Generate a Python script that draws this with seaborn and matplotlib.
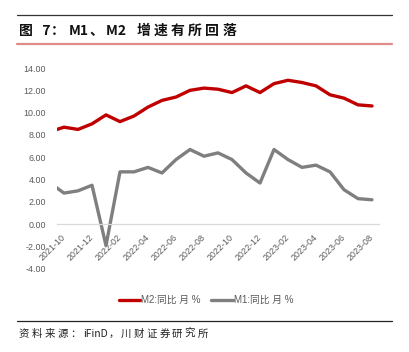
import numpy as np
import pandas as pd
import matplotlib
matplotlib.use("Agg")
import matplotlib.pyplot as plt
import seaborn as sns
from matplotlib.lines import Line2D

# ---------------- data ----------------
months = ["2021-09", "2021-10", "2021-11", "2021-12", "2022-01", "2022-02", "2022-03",
          "2022-04", "2022-05", "2022-06", "2022-07", "2022-08", "2022-09", "2022-10",
          "2022-11", "2022-12", "2023-01", "2023-02", "2023-03", "2023-04", "2023-05",
          "2023-06", "2023-07", "2023-08"]
m2_yoy = [8.3, 8.7, 8.5, 9.0, 9.8, 9.2, 9.7, 10.5, 11.1, 11.4, 12.0, 12.2, 12.1, 11.8,
          12.4, 11.8, 12.6, 12.9, 12.7, 12.4, 11.6, 11.3, 10.7, 10.6]
m1_yoy = [3.7, 2.8, 3.0, 3.5, -1.9, 4.7, 4.7, 5.1, 4.6, 5.8, 6.7, 6.1, 6.4, 5.8,
          4.6, 3.7, 6.7, 5.8, 5.1, 5.3, 4.7, 3.1, 2.3, 2.2]
series_names = ["M2:同比 月 %", "M1:同比 月 %"]
tick_labels = months[1::2]
y_ticks = [-4, -2, 0, 2, 4, 6, 8, 10, 12, 14]

# ---------------- style ----------------
sns.set_theme(style="white")
plt.rcParams["font.family"] = ["Liberation Sans", "Noto Sans CJK SC", "DejaVu Sans"]

W, H = 409, 352
fig = plt.figure(figsize=(W / 100, H / 100), dpi=100)
fig.patch.set_facecolor("white")

def fx(px):
    return px / W

def fy(py):
    return 1 - py / H

ax = fig.add_axes([fx(57), fy(269), fx(379) - fx(57), fy(68) - fy(269)])

pos = np.arange(len(months)) - 1  # 2021-10 at 0
df = pd.DataFrame({
    "pos": np.concatenate([pos, pos]),
    "value": m2_yoy + m1_yoy,
    "series": [series_names[0]] * len(months) + [series_names[1]] * len(months),
})
palette = {series_names[0]: "#C00000", series_names[1]: "#7F7F7F"}
sns.lineplot(data=df, x="pos", y="value", hue="series", palette=palette,
             linewidth=2.4, ax=ax, legend=False, sort=False)

ax.set_xlim(-0.5, 22.5)
ax.set_ylim(-4, 14)
ax.set_yticks(y_ticks)
ax.set_yticklabels([f"{v:.2f}" for v in y_ticks])
ax.set_xticks(np.arange(0, 23, 2))
ax.set_xticklabels(tick_labels)
ax.set_xlabel("")
ax.set_ylabel("")
for s in ["top", "right", "left"]:
    ax.spines[s].set_visible(False)
ax.spines["bottom"].set_position(("data", 0))
ax.spines["bottom"].set_color("#D9D9D9")
ax.spines["bottom"].set_linewidth(0.9)
ax.tick_params(axis="both", length=0, colors="#595959")
ax.tick_params(axis="y", labelsize=6.4, pad=8)
ax.tick_params(axis="x", labelsize=6.4, pad=8)
for lab in ax.get_xticklabels():
    lab.set_rotation(45)
    lab.set_ha("right")
    lab.set_va("center")
    lab.set_rotation_mode("anchor")

# legend
handles = [Line2D([], [], color=palette[n], lw=2.4) for n in series_names]
leg = fig.legend(handles, series_names, loc="center", ncol=2, frameon=False,
                 bbox_to_anchor=(fx(206), fy(300)), bbox_transform=fig.transFigure,
                 handlelength=2.2, handletextpad=0.1, columnspacing=1.1,
                 prop={"family": ["Liberation Sans", "Noto Sans CJK SC"], "size": 7})
for t in leg.get_texts():
    t.set_color("#595959")

# header / footer rules
fig.add_artist(plt.Line2D([fx(17), fx(392)], [fy(15), fy(15)], color="#333333", lw=0.9))
fig.add_artist(plt.Line2D([fx(17), fx(392)], [fy(43.5), fy(43.5)], color="#E08A8A", lw=1.6))
fig.add_artist(plt.Line2D([fx(17), fx(392)], [fy(321), fy(321)], color="#222222", lw=0.9))

renderer = fig.canvas.get_renderer()

def is_wide(ch):
    return ord(ch) >= 0x2E80

def spaced(x_px, y_px, s, gap_px, **kw):
    # draws text piece by piece, adding letter spacing after wide (CJK) glyphs
    x = x_px
    chunk = ""
    pieces = []
    for ch in s:
        if is_wide(ch):
            if chunk:
                pieces.append((chunk, False))
                chunk = ""
            pieces.append((ch, True))
        else:
            chunk += ch
    if chunk:
        pieces.append((chunk, False))
    for txt, wide in pieces:
        t = fig.text(fx(x), fy(y_px), txt, ha="left", va="center", **kw)
        w = t.get_window_extent(renderer=renderer).width
        if txt.endswith(" "):
            w += 0.45 * kw.get("fontsize", 10) * 100 / 72 * txt.count(" ")
        x += w + (gap_px if wide else 0.5)

spaced(19, 31, "图  7：M1、M2 增速有所回落", 3.4, fontsize=10, fontweight="bold",
       color="#111111", family=["Noto Sans CJK SC", "DejaVu Sans"])
spaced(19, 334, "资料来源：iFinD，川财证券研究所", 2.4, fontsize=7.5, style="italic",
       color="#222222", family=["Noto Sans CJK SC", "DejaVu Sans"])

fig.savefig("out.png", dpi=100, facecolor="white")
